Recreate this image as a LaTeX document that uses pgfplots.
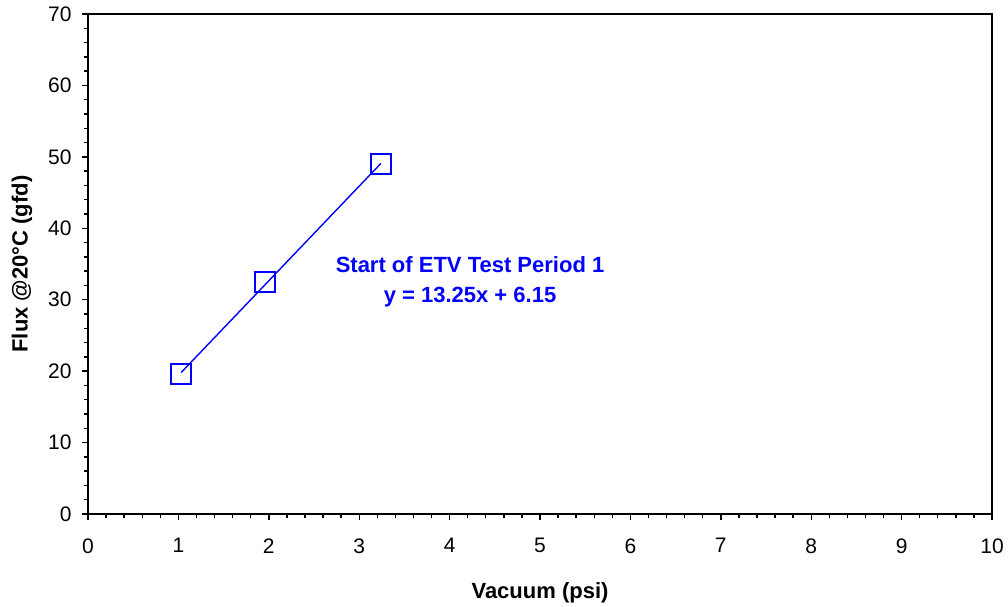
\documentclass[border=0pt]{standalone}
\usepackage{fontspec}
\setmainfont{Liberation Sans}
\usepackage{pgfplots}
\pgfplotsset{compat=1.18}
\begin{document}
\begin{tikzpicture}
\useasboundingbox (-88bp,-93bp) rectangle (920bp,514bp);
\begin{axis}[
  at={(0,0)}, anchor=south west,
  scale only axis, width=904bp, height=500bp,
  xmin=0, xmax=10, ymin=0, ymax=70,
  xtick={0,1,...,10}, ytick={0,10,...,70},
  minor x tick num=4, minor y tick num=4,
  tick pos=left, tick align=outside,
  major tick length=6bp, minor tick length=4bp,
  axis line style={line width=1.6bp},
  every tick/.style={black, line width=1.4bp},
  /pgf/number format/assume math mode=true,
  ticklabel style={font=\fontsize{21bp}{24bp}\selectfont},
  xticklabel style={yshift=-15bp},
  yticklabel style={xshift=-7bp},
  label style={font=\fontsize{22bp}{26bp}\selectfont\bfseries},
  xlabel={Vacuum (psi)}, ylabel={Flux @20°C (gfd)},
  xlabel style={yshift=-22bp},
  ylabel style={yshift=9bp},
  clip=false,
]
\addplot[blue, line width=1.4bp, mark=square, mark size=10bp, mark options={line width=1.8bp}, only marks]
  coordinates {(1.03,19.6) (1.96,32.5) (3.24,49.0)};
\addplot[blue, line width=1.4bp] coordinates {(1.03,19.80) (3.24,49.08)};
\node[blue, font=\fontsize{22bp}{30bp}\selectfont\bfseries, align=center] at (axis cs:4.226,32.5)
  {Start of ETV Test Period 1\\y = 13.25x + 6.15};
\end{axis}
\end{tikzpicture}
\end{document}
